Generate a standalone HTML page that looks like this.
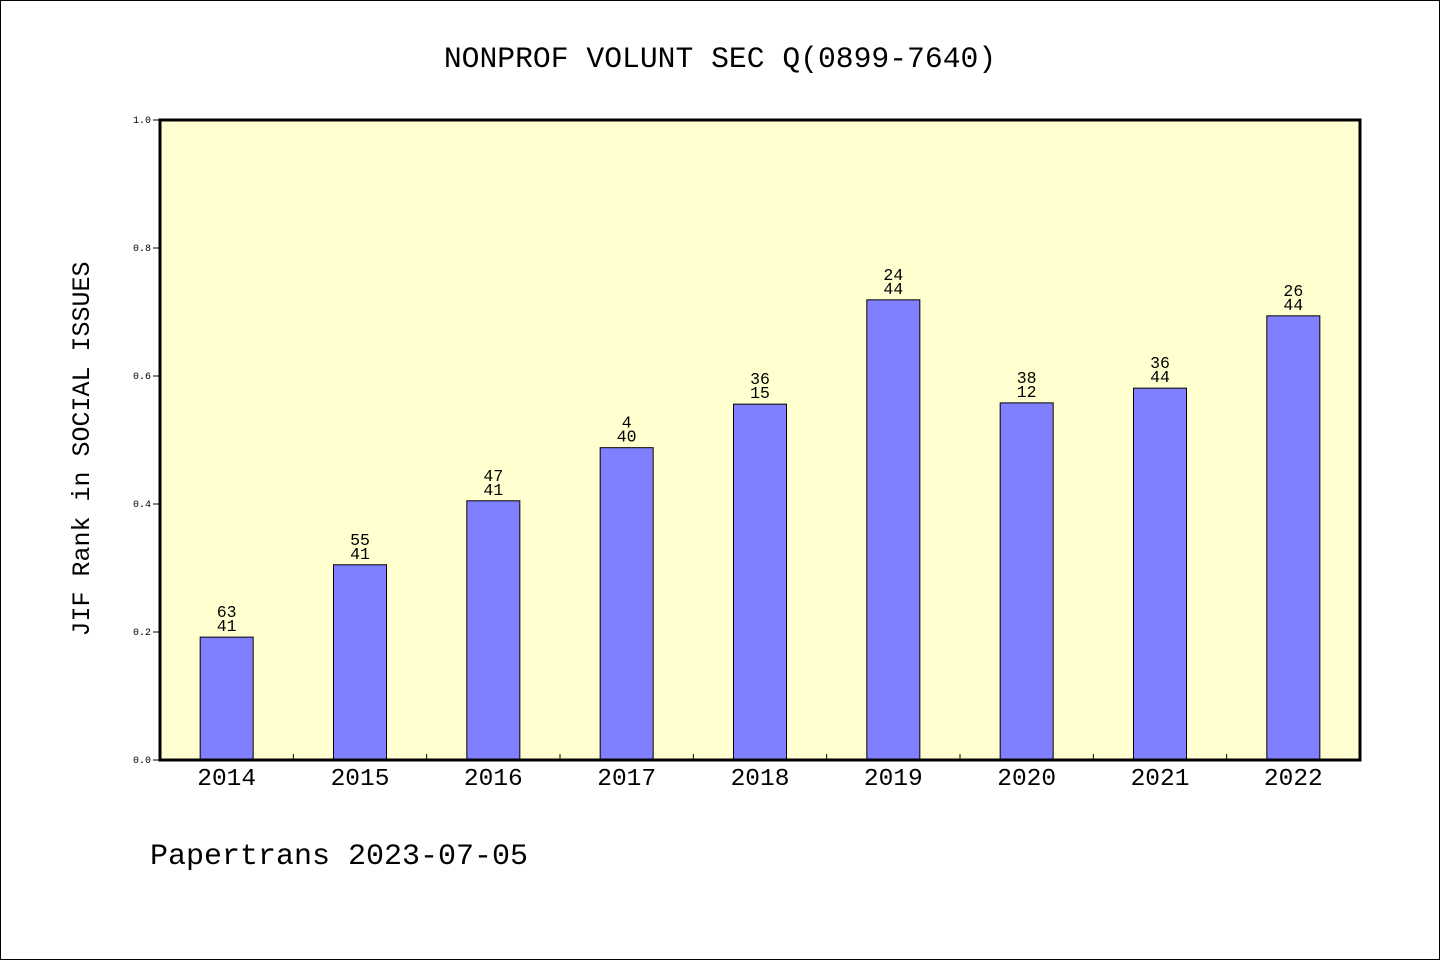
<!DOCTYPE html>
<html><head><meta charset="utf-8"><style>
body{margin:0;background:#fff}
svg{display:block}
text{font-family:"Liberation Mono","WenQuanYi Zen Hei",monospace;fill:#000}
</style></head><body>
<svg id="chart" width="1440" height="960" xmlns="http://www.w3.org/2000/svg">
<rect x="0.5" y="0.5" width="1439" height="959" fill="#fff" stroke="#000"/>
<text x="720" y="67" font-size="29.7" text-anchor="middle">NONPROF VOLUNT SEC Q(0899-7640)</text>
<rect x="160" y="120" width="1200" height="640" fill="#ffffd0"/>
<g id="bars"></g>
<rect x="160" y="120" width="1200" height="640" fill="none" stroke="#000" stroke-width="3"/>
<g id="axes"></g>
<text transform="translate(89,449) rotate(-90)" font-size="25" text-anchor="middle">JIF Rank in SOCIAL ISSUES</text>
<text x="150" y="864" font-size="30">Papertrans 2023-07-05</text>
</svg>
<script>
const categories=["2014","2015","2016","2017","2018","2019","2020","2021","2022"];
const values=[0.192,0.305,0.405,0.488,0.556,0.719,0.558,0.581,0.694];
const topLabels=["63","55","47","4","36","24","38","36","26"];
const bottomLabels=["41","41","41","40","15","44","12","44","44"];
const yTicks=[0,0.2,0.4,0.6,0.8,1.0];
const X0=160,X1=1360,Y0=760,Y1=120;
const bw=(X1-X0)/categories.length;
const x=i=>X0+bw*(i+0.5);
const y=v=>Y0-(Y0-Y1)*v;
const NS="http://www.w3.org/2000/svg";
function mk(t,a,p){const e=document.createElementNS(NS,t);for(const k in a)e.setAttribute(k,a[k]);p.appendChild(e);return e;}
const bars=document.getElementById('bars'),axes=document.getElementById('axes');
values.forEach((v,i)=>{
  const r=mk('rect',{x:x(i)-26.5,y:y(v),width:53,height:Y0-y(v),fill:'#8080ff',stroke:'#000','stroke-width':1},bars);
  
  
  const t1=mk('text',{x:x(i),y:y(v)-20,'font-size':16.5,'text-anchor':'middle'},bars);t1.textContent=topLabels[i];
  
  
  const t2=mk('text',{x:x(i),y:y(v)-6,'font-size':16.5,'text-anchor':'middle'},bars);t2.textContent=bottomLabels[i];
  
  
  const xl=mk('text',{x:x(i),y:785,'font-size':24.5,'text-anchor':'middle'},axes);xl.textContent=categories[i];
  
  
  if(i>0){const tk=mk('line',{x1:X0+bw*i,x2:X0+bw*i,y1:Y0,y2:Y0-6,stroke:'#000'},axes);
  
  }
});
yTicks.forEach(v=>{
  const l=mk('line',{x1:X0-7,x2:X0,y1:y(v),y2:y(v),stroke:'#000'},axes);
  
  
  const t=mk('text',{x:X0-9,y:y(v)+3,'font-size':10,'text-anchor':'end'},axes);t.textContent=v.toFixed(1);
  
  
});
</script>
</body></html>
